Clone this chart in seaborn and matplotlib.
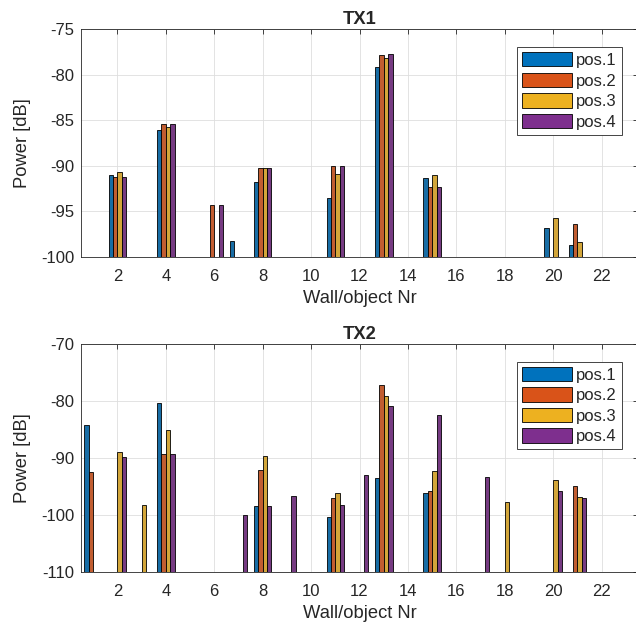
import numpy as np
import pandas as pd
import matplotlib
matplotlib.use("Agg")
import matplotlib.pyplot as plt
from matplotlib.patches import Patch
import seaborn as sns

nan = np.nan

# Wall/object numbers and the four receiver positions
walls = list(range(1, 24))
positions = ["pos.1", "pos.2", "pos.3", "pos.4"]
colors = ["#0072BD", "#D95319", "#EDB120", "#7E2F8E"]

# Received power per wall/object [dB], transmitter TX1 (nan = no contribution)
tx1_pos1 = [nan, -91.05, nan, -86.03, nan, nan, -98.30, -91.75, nan, nan, -93.50, nan,
            -79.10, nan, -91.37, nan, nan, nan, nan, -96.87, -98.74, nan, nan]
tx1_pos2 = [nan, -91.27, nan, -85.37, nan, -94.34, nan, -90.28, nan, nan, -90.02, nan,
            -77.79, nan, -92.33, nan, nan, nan, nan, nan, -96.43, nan, nan]
tx1_pos3 = [nan, -90.65, nan, -85.77, nan, nan, nan, -90.28, nan, nan, -90.90, nan,
            -78.19, nan, -90.98, nan, nan, nan, nan, -95.77, -98.34, nan, nan]
tx1_pos4 = [nan, -91.23, nan, -85.37, nan, -94.34, nan, -90.28, nan, nan, -90.02, nan,
            -77.76, nan, -92.33, nan, nan, nan, nan, nan, nan, nan, nan]

# Received power per wall/object [dB], transmitter TX2
tx2_pos1 = [-84.24, nan, nan, -80.37, nan, nan, nan, -98.47, nan, nan, -100.30, nan,
            -93.55, nan, -96.19, nan, nan, nan, nan, nan, nan, nan, nan]
tx2_pos2 = [-92.50, nan, nan, -89.28, nan, nan, nan, -92.15, nan, nan, -96.96, nan,
            -77.10, nan, -95.84, nan, nan, nan, nan, nan, -94.90, nan, nan]
tx2_pos3 = [nan, -88.93, -98.19, -85.12, nan, nan, nan, -89.69, nan, nan, -96.19, nan,
            -79.09, nan, -92.32, nan, nan, -97.66, nan, -93.80, -96.89, nan, nan]
tx2_pos4 = [nan, -89.75, nan, -89.28, nan, nan, -100.05, -98.47, -96.66, nan, -98.19, -92.97,
            -80.90, nan, -82.37, nan, -93.37, nan, nan, -95.78, -97.07, nan, nan]

tx1 = [tx1_pos1, tx1_pos2, tx1_pos3, tx1_pos4]
tx2 = [tx2_pos1, tx2_pos2, tx2_pos3, tx2_pos4]

sns.set_style("white")
plt.rcParams["font.family"] = ["Liberation Sans", "DejaVu Sans"]
ink = "#262626"
plt.rcParams.update({
    "axes.edgecolor": ink,
    "axes.labelcolor": ink,
    "xtick.color": ink,
    "ytick.color": ink,
    "text.color": ink,
    "axes.linewidth": 0.6,
    "axes.unicode_minus": False,
})


def long_frame(series):
    rows = []
    for name, vals in zip(positions, series):
        for w, v in zip(walls, vals):
            rows.append((w, name, v))
    return pd.DataFrame(rows, columns=["wall", "pos", "power"]).dropna()


fig = plt.figure(figsize=(6.36, 6.26), dpi=100)
axes = [fig.add_axes([0.1274, 0.5899, 0.8758, 0.3633]),
        fig.add_axes([0.1274, 0.0863, 0.8758, 0.3637])]

panels = [("TX1", tx1, -100, -75, 5, 0.922),
          ("TX2", tx2, -110, -70, 10, 0.924)]

for ax, (title, series, lo, hi, step, leg_top) in zip(axes, panels):
    df = long_frame(series)
    sns.barplot(data=df, x="wall", y="power", hue="pos", hue_order=positions,
                palette=colors, native_scale=True, width=0.727, gap=0,
                errorbar=None, edgecolor="black", linewidth=0.6,
                legend=False, ax=ax)
    # bars rise from the bottom of the power axis
    for bar in ax.patches:
        top = bar.get_y() + bar.get_height()
        bar.set_y(lo)
        bar.set_height(top - lo)

    ax.set_xlim(0.5, 23.5)
    ax.set_ylim(lo, hi)
    ax.set_xticks(range(2, 23, 2))
    ax.set_yticks(np.arange(lo, hi + 0.1, step))
    ax.grid(True, color="#dedede", linewidth=0.6)
    ax.set_axisbelow(True)
    for side in ["top", "right", "left", "bottom"]:
        ax.spines[side].set_visible(True)
    ax.tick_params(direction="in", length=3.6, width=0.6, top=True, right=True,
                   labelsize=12)
    ax.tick_params(axis="x", pad=9)
    ax.tick_params(axis="y", pad=5)
    ax.set_xlabel("Wall/object Nr", fontsize=13.2, labelpad=4)
    ax.set_ylabel("Power [dB]", fontsize=13.2, labelpad=7)
    ax.set_title(title, fontsize=13.2, fontweight="bold", pad=4)

    handles = [Patch(facecolor=c, edgecolor="black", linewidth=0.6) for c in colors]
    leg = ax.legend(handles, positions, loc="upper right",
                    bbox_to_anchor=(0.971, leg_top), frameon=True, fancybox=False,
                    framealpha=1, fontsize=12, handlelength=3.0, handleheight=0.95,
                    handletextpad=0.25, labelspacing=0.28, borderpad=0.3,
                    borderaxespad=0)
    leg.get_frame().set_edgecolor(ink)
    leg.get_frame().set_linewidth(0.6)

fig.savefig("out.png", dpi=100)
